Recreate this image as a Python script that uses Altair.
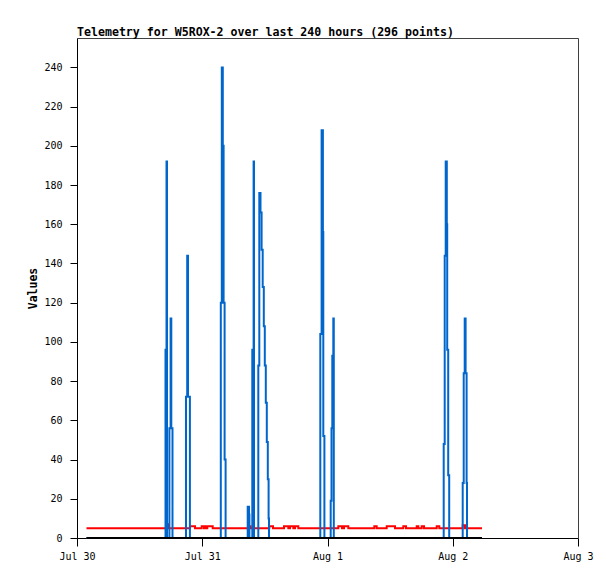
import altair as alt
import pandas as pd

TITLE = "Telemetry for W5ROX-2 over last 240 hours (296 points)"
Y_TITLE = "Values"
x_tick_hours = [0, 24, 48, 72, 96]
x_tick_labels = ["Jul 30", "Jul 31", "Aug 1", "Aug 2", "Aug 3"]
y_ticks = list(range(0, 241, 20))

# hours since Jul 30 00:00
blue_hours = [
    1.820,
    16.862, 16.958, 17.150, 17.246, 17.629, 17.705, 17.935, 18.069, 18.223, 18.299,
    20.829, 20.886, 21.116, 21.270, 21.557, 21.634,
    27.478, 27.555, 27.746, 27.938, 28.091, 28.206, 28.283, 28.398, 28.474,
    32.632, 32.709, 32.958, 33.035,
    33.514, 33.591, 33.840, 33.916,
    34.683, 34.740, 34.932, 35.162, 35.372, 35.583, 35.794, 35.986, 36.177, 36.369, 36.561, 36.714, 36.790,
    46.544, 46.621, 46.870, 47.119, 47.195, 47.329, 47.406,
    48.537, 48.613, 48.767, 48.920, 49.111, 49.207,
    70.190, 70.266, 70.458, 70.650, 70.861, 70.937, 71.129, 71.243, 71.320,
    73.830, 73.907, 74.099, 74.290, 74.463, 74.655, 74.731,
    77.605,
]
blue_values = [
    0,
    0, 96, 192, 0, 0, 56, 112, 56, 56, 0,
    0, 72, 144, 72, 72, 0,
    0, 120, 240, 200, 120, 120, 40, 40, 0,
    0, 16, 12, 0,
    0, 96, 192, 0,
    0, 88, 176, 166, 147, 128, 108, 88, 69, 49, 30, 10, 0,
    0, 104, 208, 156, 52, 52, 0,
    0, 19, 56, 93, 112, 0,
    0, 48, 144, 192, 160, 96, 32, 32, 0,
    0, 28, 84, 112, 84, 28, 0,
    0,
]

red_hours = [
    1.820, 17.303, 17.629, 21.653, 22.611, 23.895, 24.335, 24.527, 24.853, 24.968,
    26.003, 32.767, 33.284, 36.848, 37.557, 39.665, 40.489, 40.815, 41.447, 41.773,
    42.405, 50.070, 50.779, 51.162, 51.986, 56.968, 57.428, 59.344, 60.934, 62.525,
    63.042, 65.092, 65.399, 66.051, 66.491, 68.925, 69.424, 73.907, 74.348, 77.605,
]
red_values = [
    5, 7, 5, 6, 5, 6, 5, 6, 5, 6,
    5, 6, 5, 6, 5, 6, 5, 6, 5, 6,
    5, 6, 5, 6, 5, 6, 5, 6, 5, 6,
    5, 6, 5, 6, 5, 6, 5, 6.5, 5, 5,
]

black_hours = [1.820, 77.605]
black_values = [0, 0]

blue_df = pd.DataFrame({"h": blue_hours, "v": blue_values})
red_df = pd.DataFrame({"h": red_hours, "v": red_values})
black_df = pd.DataFrame({"h": black_hours, "v": black_values})

FONT = "DejaVu Sans Mono"
FRAME = "#404040"
label_expr = "[" + ",".join("'%s'" % s for s in x_tick_labels) + "][round(datum.value/24)]"
x_scale = alt.Scale(domain=[0, 96], nice=False, zero=False)
y_scale = alt.Scale(domain=[0, 255], nice=False)

x_main = alt.X(
    "h:Q",
    scale=x_scale,
    axis=alt.Axis(
        values=x_tick_hours, labelExpr=label_expr, title=None, grid=False,
        tickSize=8, tickColor="black", domainColor="black", labelPadding=5,
        labelFont=FONT, labelFontSize=10, labelColor="black", labelFlush=False,
        orient="bottom",
    ),
)
y_main = alt.Y(
    "v:Q",
    scale=y_scale,
    axis=alt.Axis(
        values=y_ticks, title=Y_TITLE, grid=False, tickSize=7, tickColor="black",
        domain=True, domainColor="black", labelPadding=8, labelFont=FONT, labelFontSize=10,
        labelColor="black", titleFont=FONT, titleFontSize=11.5, titleFontWeight="bold",
        titleColor="black", titleX=-39, titleY=250, titleAngle=270, orient="left",
    ),
)
x_plain = alt.X("h:Q", scale=x_scale, axis=None)
y_plain = alt.Y("v:Q", scale=y_scale, axis=None)

red = alt.Chart(red_df).mark_line(color="#ff0000", strokeWidth=2, interpolate="step-after").encode(x=x_main, y=y_main)
blue = alt.Chart(blue_df).mark_line(color="#0066cc", strokeWidth=2, interpolate="step-after").encode(x=x_plain, y=y_plain)
black = alt.Chart(black_df).mark_line(color="#000000", strokeWidth=2).encode(x=x_plain, y=y_plain)

# top and right frame edges drawn as bare axis domains
frame = alt.Chart(black_df).mark_line(opacity=0).encode(
    x=alt.X("h:Q", scale=x_scale, axis=alt.Axis(orient="top", title=None, labels=False, ticks=False,
                                                  grid=False, domainColor=FRAME)),
    y=alt.Y("v:Q", scale=y_scale, axis=alt.Axis(orient="right", title=None, labels=False, ticks=False,
                                                  grid=False, domainColor=FRAME)),
)

chart = (
    alt.layer(red, blue, black, frame)
    .resolve_axis(x="independent", y="independent")
    .properties(
        width=501,
        height=500,
        title=alt.TitleParams(
            TITLE, anchor="start", font=FONT, fontSize=11.6, fontWeight="bold",
            color="black", offset=3, dy=4, frame="group",
        ),
        autosize=alt.AutoSizeParams(type="none"),
        padding={"left": 69, "top": 30, "right": 20, "bottom": 30},
    )
    .configure_view(stroke=None)
    .configure(background="white")
)

chart.save("out.html", embed_options={"renderer": "svg", "actions": False})
